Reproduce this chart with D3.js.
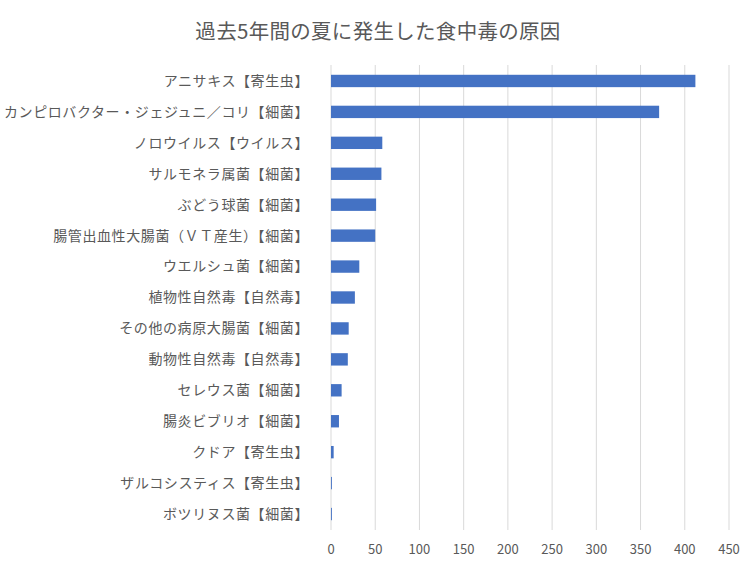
<!DOCTYPE html>
<html><head><meta charset="utf-8">
<script src="https://cdn.jsdelivr.net/npm/d3@7"></script>
<style>body{margin:0;background:#fff;font-family:"Noto Sans CJK JP",sans-serif;}</style>
</head><body>
<script>
// data
const causes = ["アニサキス【寄生虫】","カンピロバクター・ジェジュニ／コリ【細菌】","ノロウイルス【ウイルス】","サルモネラ属菌【細菌】","ぶどう球菌【細菌】","腸管出血性大腸菌（ＶＴ産生）【細菌】","ウエルシュ菌【細菌】","植物性自然毒【自然毒】","その他の病原大腸菌【細菌】","動物性自然毒【自然毒】","セレウス菌【細菌】","腸炎ビブリオ【細菌】","クドア【寄生虫】","ザルコシスティス【寄生虫】","ボツリヌス菌【細菌】"];
const counts = [412,371,58,57,51,50,32,27,20,19,12,9,3,1,1];
const ticks = [0,50,100,150,200,250,300,350,400,450];

const svg = d3.select("body").append("svg").attr("width",756).attr("height",567);
const x = d3.scaleLinear().domain([0,450]).range([331,729]);
const y = d3.scaleBand().domain(causes).range([65.5,529.5]).paddingInner(0.6).paddingOuter(0.3);

svg.append("text").attr("x",378).attr("y",39).attr("text-anchor","middle")
  .attr("font-size",20.5).attr("letter-spacing",0.3).attr("fill","#595959").text("過去5年間の夏に発生した食中毒の原因");

svg.selectAll("line.grid").data(ticks).enter().append("line")
  .attr("x1",d=>x(d)).attr("x2",d=>x(d)).attr("y1",65).attr("y2",530)
  .attr("stroke","#d9d9d9");

svg.selectAll("rect").data(counts).enter().append("rect")
  .attr("x",x(0)).attr("y",(d,i)=>y(causes[i])).attr("height",y.bandwidth())
  .attr("width",d=>x(d)-x(0)).attr("fill","#4472c4");

svg.selectAll("text.cat").data(causes).enter().append("text")
  .attr("x",309).attr("y",d=>y(d)+y.bandwidth()/2).attr("dy","0.35em")
  .attr("text-anchor","end").attr("font-size",14).attr("letter-spacing",0.6)
  .attr("fill","#595959").text(d=>d);

svg.selectAll("text.tick").data(ticks).enter().append("text")
  .attr("x",d=>x(d)).attr("y",554).attr("text-anchor","middle")
  .attr("font-size",13).attr("fill","#595959").text(d=>d);
</script>
</body></html>
